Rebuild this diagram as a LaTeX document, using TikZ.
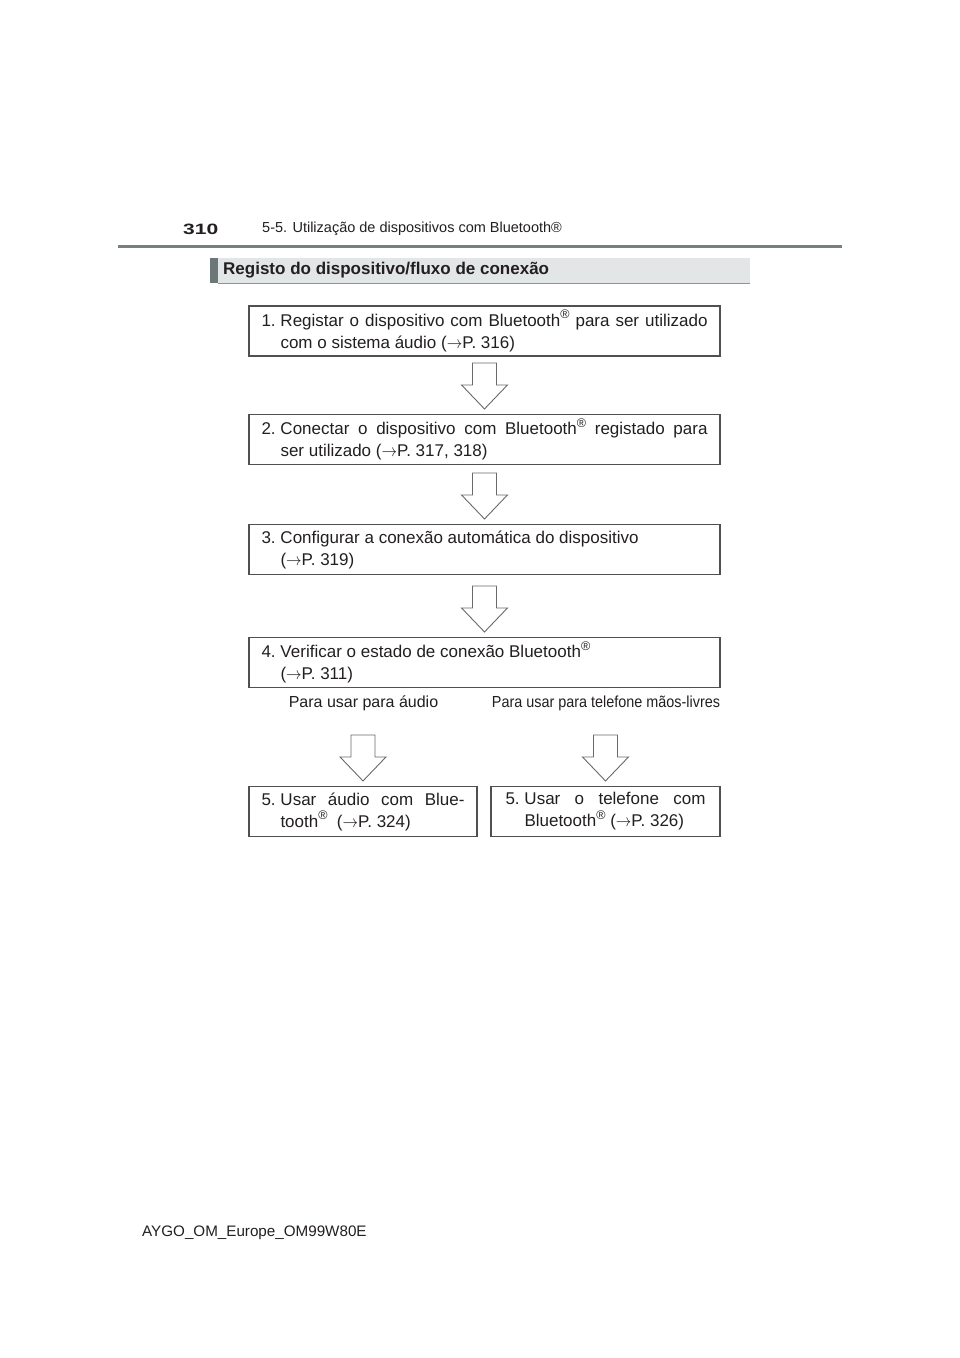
\documentclass[tikz,border=0pt]{standalone}
\usepackage{fontspec}
\setmainfont{Liberation Sans}
\usetikzlibrary{calc}
\definecolor{txt}{RGB}{35,31,32}
\definecolor{boxline}{RGB}{80,80,80}
\definecolor{arrline}{RGB}{105,105,105}
\definecolor{rulegrey}{RGB}{118,128,128}
\definecolor{barfill}{RGB}{226,230,230}
\definecolor{bardark}{RGB}{108,120,120}
\definecolor{barline}{RGB}{140,148,148}
\newcommand\regm{\raisebox{0.45em}{\fontsize{12.5}{12.5}\selectfont ®}}
\newcommand\ra{\scalebox{0.9}[1]{$\rightarrow$}}
\newcommand\stepnum[1]{\makebox[19pt][l]{#1}}
\newcommand\boxtext[2]{\parbox{#1}{\fontsize{17}{22}\selectfont\hangindent=19pt\hangafter=1 #2}}
\newcommand\flowarrow[1]{%
  \draw[blockarrow] ($(#1.north)+(0,-5)$) -- ($(#1.north)+(-23,-29)$) -- ($(#1.north)+(-12,-29)$)
    -- ($(#1.north)+(-12,-51)$) -- ($(#1.north)+(12,-51)$) -- ($(#1.north)+(12,-29)$)
    -- ($(#1.north)+(23,-29)$) -- cycle;}
\begin{document}
\begin{tikzpicture}[x=1pt,y=-1pt,
  every node/.style={text=txt, inner sep=0pt},
  flowbox/.style={draw=boxline, line width=1.1pt, minimum height=50pt, inner sep=0pt},
  blockarrow/.style={draw=arrline, line width=0.9pt, fill=white, line join=miter},
  lbl/.style={font=\fontsize{16}{19}\selectfont}]
\useasboundingbox[fill=white] (0,0) rectangle (960,1358);

% header
\node[anchor=west] (pg) at (183,229) {\scalebox{1.4}[1]{\fontsize{15}{16}\selectfont\bfseries 310}};
\node[anchor=west] (hd) at (262,229) {\fontsize{14.5}{16}\selectfont 5-5. Utilização de dispositivos com Bluetooth®};
\draw[rulegrey, line width=2.5pt] (118,246.5) -- (842,246.5);

% section bar
\fill[barfill] (210,258) rectangle (750,283);
\fill[bardark] (210,258) rectangle (218,283);
\draw[barline, line width=1pt] (218,283) -- (750,283);
\node[anchor=west] (title) at (223,270.5) {\fontsize{17}{20}\selectfont\bfseries Registo do dispositivo/fluxo de conexão};

% boxes
\node[flowbox, minimum width=471pt] (b1) at (484.5,331) {\boxtext{446pt}{\stepnum{1.}Registar o dispositivo com Bluetooth\regm{} para ser utilizado\linebreak com o sistema áudio (\ra P.~316)}};
\node[flowbox, minimum width=471pt] (b2) at (484.5,439.5) {\boxtext{446pt}{\stepnum{2.}Conectar o dispositivo com Bluetooth\regm{} registado para\linebreak ser utilizado (\ra P.~317, 318)}};
\node[flowbox, minimum width=471pt] (b3) at (484.5,549.5) {\boxtext{446pt}{\stepnum{3.}Configurar a conexão automática do dispositivo\newline (\ra P.~319)}};
\node[flowbox, minimum width=471pt] (b4) at (484.5,662.5) {\boxtext{446pt}{\stepnum{4.}Verificar o estado de conexão Bluetooth\regm\newline (\ra P.~311)}};

\node[lbl] (l1) at (363.5,703) {Para usar para áudio};
\node[lbl] (l2) at (606,703) {\scalebox{0.9}[1]{Para usar para telefone mãos-livres}};

\node[flowbox, minimum width=228pt] (b5a) at (363,811.5) {\boxtext{203pt}{\stepnum{5.}Usar áudio com Blue-\linebreak tooth\regm~~(\ra P.~324)}};
\node[flowbox, minimum width=229pt] (b5b) at (605.5,811.5) {\boxtext{200pt}{\stepnum{5.}Usar o telefone com\linebreak Bluetooth\regm{} (\ra P.~326)}};

% arrows
\flowarrow{b2}
\flowarrow{b3}
\flowarrow{b4}
\flowarrow{b5a}
\flowarrow{b5b}

% footer
\node[anchor=west] (ft) at (142,1233) {\fontsize{15.2}{18}\selectfont AYGO\_OM\_Europe\_OM99W80E};
\end{tikzpicture}
\end{document}
